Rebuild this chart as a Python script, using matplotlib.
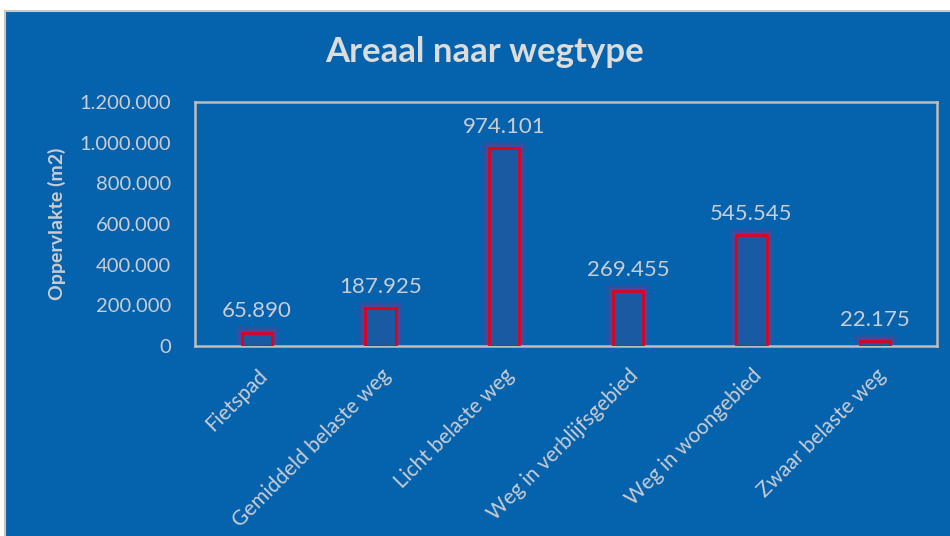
import matplotlib
matplotlib.use("Agg")
import matplotlib.pyplot as plt
from matplotlib.patches import Rectangle
from matplotlib.ticker import FuncFormatter

categories = ["Fietspad", "Gemiddeld belaste weg", "Licht belaste weg",
              "Weg in verblijfsgebied", "Weg in woongebied", "Zwaar belaste weg"]
values = [65890, 187925, 974101, 269455, 545545, 22175]
yticks = [0, 200000, 400000, 600000, 800000, 1000000, 1200000]

title = "Areaal naar wegtype"
ylabel = "Oppervlakte (m2)"

BG = "#0562AD"
TXT = "#C9CDD4"
GRAY = "#BDBDBD"
RED = "#E3001B"

def nl(v):
    return f"{int(v):,}".replace(",", ".")

plt.rcParams['font.family'] = ['Lato', 'DejaVu Sans']

fig = plt.figure(figsize=(9.5, 5.36), dpi=100)
fig.patch.set_facecolor("white")
bgrect = Rectangle((5/950, -0.01), 1.0, (536-11)/536 + 0.01,
                   transform=fig.transFigure, facecolor=BG,
                   edgecolor="#C8C8C8", linewidth=1.5, zorder=-10)
fig.patches.append(bgrect)

ax = fig.add_axes([195/950, 1-346/536, (937-195)/950, (346-102)/536])
ax.set_zorder(1)
ax.set_facecolor(BG)
x = list(range(len(categories)))
width = 0.245
# glow
for lw, a in [(10, 0.10), (7, 0.14), (4.5, 0.2)]:
    ax.bar(x, values, width=width, facecolor="none",
           edgecolor=(0.7, 0.15, 0.5, a), linewidth=lw, zorder=2)
ax.bar(x, values, width=width, facecolor="#1A5AA3", edgecolor=RED,
       linewidth=2, zorder=3)

ax.set_xlim(-0.5, len(categories) - 0.5)
ax.set_ylim(0, 1200000)
ax.set_yticks(yticks)
ax.yaxis.set_major_formatter(FuncFormatter(lambda v, p: nl(v)))
ax.set_xticks(x)
ax.set_xticklabels(categories, rotation=45, ha="right", rotation_mode="anchor")
ax.tick_params(axis="both", length=0, colors=TXT)
ax.tick_params(axis="y", pad=17, labelsize=14.5)
ax.tick_params(axis="x", pad=14, labelsize=15)
for s in ax.spines.values():
    s.set_color(GRAY)
    s.set_linewidth(1.8)

for xi, v in zip(x, values):
    ax.annotate(nl(v), (xi, v), xytext=(0, 8), textcoords="offset points",
                ha="center", va="bottom", color=TXT, fontsize=16)

ax.set_ylabel(ylabel, color=TXT, fontsize=14, fontweight="bold", labelpad=10)
fig.text(485/950, 1-52/536, title, ha="center", va="center", color="#DCDCDC",
         fontsize=25, fontweight="bold")

fig.savefig("out.png", dpi=100, facecolor=fig.get_facecolor())
